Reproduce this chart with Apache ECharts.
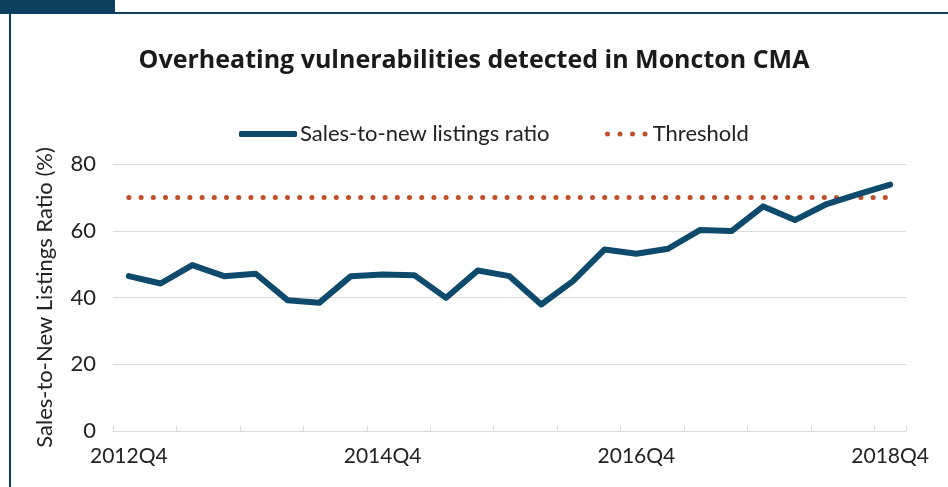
<!DOCTYPE html>
<html>
<head>
<meta charset="utf-8">
<script src="https://cdn.jsdelivr.net/npm/echarts@6/dist/echarts.min.js"></script>
<style>
  html, body { margin: 0; padding: 0; background: #fff; }
  #chart { width: 948px; height: 487px; }
</style>
</head>
<body>
<div id="chart"></div>
<script>
const quarters = [
  "2012Q4",
  "2013Q1", "2013Q2", "2013Q3", "2013Q4",
  "2014Q1", "2014Q2", "2014Q3", "2014Q4",
  "2015Q1", "2015Q2", "2015Q3", "2015Q4",
  "2016Q1", "2016Q2", "2016Q3", "2016Q4",
  "2017Q1", "2017Q2", "2017Q3", "2017Q4",
  "2018Q1", "2018Q2", "2018Q3", "2018Q4"
];
const salesRatio = [
  46.4, 44.2, 49.7, 46.4, 47.1, 39.2, 38.4, 46.4, 46.9, 46.7,
  39.9, 48.1, 46.4, 37.9, 44.9, 54.4, 53.1, 54.6, 60.2, 59.9,
  67.3, 63.2, 68.0, 71.0, 73.8
];
const threshold = quarters.map(() => 70);
const yTicks = [0, 20, 40, 60, 80];

const FONT = "Lato, 'Open Sans', sans-serif";
const NAVY = "#0e4a6c";
const RUST = "#c04f2a";

// four dots for the threshold legend key
const dotsIcon = "path://" + [0, 1, 2, 3].map(i => {
  const cx = 2.5 + i * 12.5;
  return `M${cx - 2.5},2.5 a2.5,2.5 0 1,0 5,0 a2.5,2.5 0 1,0 -5,0 Z`;
}).join(" ");

const chart = echarts.init(document.getElementById("chart"));

chart.setOption({
  animation: false,
  textStyle: { fontFamily: FONT },
  title: {
    text: "Overheating vulnerabilities detected in Moncton CMA",
    left: "center",
    top: 43,
    textStyle: { fontSize: 25, fontWeight: "bold", color: "#1a1a1a", fontFamily: "'Open Sans', Lato, sans-serif" }
  },
  legend: [
    {
      left: 234,
      top: 118,
      itemWidth: 58,
      itemHeight: 6,
      itemGap: 0,
      textStyle: { fontSize: 22, color: "#222", fontFamily: FONT, padding: [0, 0, 0, -2] },
      data: [{ name: "Sales-to-new listings ratio", icon: "roundRect", itemStyle: { color: NAVY } }]
    },
    {
      left: 600,
      top: 118,
      itemWidth: 43,
      itemHeight: 5,
      textStyle: { fontSize: 22, color: "#222", fontFamily: FONT, padding: [0, 0, 0, 0] },
      data: [{ name: "Threshold", icon: dotsIcon, itemStyle: { color: RUST } }]
    }
  ],
  grid: { left: 113, right: 42, top: 164, bottom: 56 },
  xAxis: {
    type: "category",
    data: quarters,
    boundaryGap: true,
    axisLine: { lineStyle: { color: "#d9d9d9", width: 1 } },
    axisTick: { show: true, inside: true, length: 5, interval: 1, lineStyle: { color: "#d9d9d9" } },
    axisLabel: { interval: 7, fontSize: 21, color: "#222", margin: 15, fontFamily: FONT }
  },
  yAxis: {
    type: "value",
    min: yTicks[0],
    max: yTicks[yTicks.length - 1],
    interval: 20,
    name: "Sales-to-New Listings Ratio (%)",
    nameLocation: "middle",
    nameGap: 57,
    nameTextStyle: { fontSize: 22, color: "#222", fontFamily: FONT },
    axisLine: { show: false },
    axisTick: { show: false },
    axisLabel: { fontSize: 22, color: "#222", margin: 17, fontFamily: FONT },
    splitLine: { lineStyle: { color: "#d9d9d9", width: 1 } }
  },
  series: [
    {
      name: "Threshold",
      type: "line",
      data: threshold,
      symbol: "none",
      lineStyle: { color: RUST, width: 5, type: [0.1, 12.1], cap: "round" },
      itemStyle: { color: RUST },
      z: 2
    },
    {
      name: "Sales-to-new listings ratio",
      type: "line",
      data: salesRatio,
      symbol: "none",
      lineStyle: { color: NAVY, width: 6, cap: "round", join: "round" },
      itemStyle: { color: NAVY },
      z: 3
    }
  ],
  graphic: [
    { type: "rect", shape: { x: 0, y: 0, width: 115, height: 13 }, style: { fill: "#0d3f5f" } },
    { type: "rect", shape: { x: 0, y: 12, width: 948, height: 2 }, style: { fill: "#0d3f5f" } },
    { type: "rect", shape: { x: 9, y: 12, width: 2, height: 475 }, style: { fill: "#0d3f5f" } },
    { type: "text", left: 30, top: -19, style: { text: "Figure", fill: "#fff", font: "bold 19px " + FONT } }
  ]
});
</script>
</body>
</html>
